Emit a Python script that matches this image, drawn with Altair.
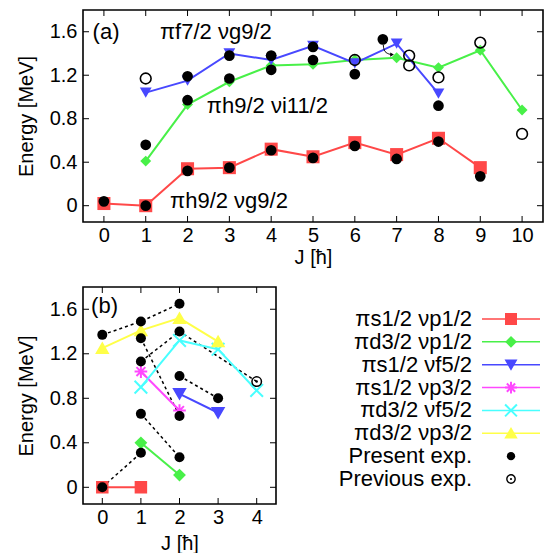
import altair as alt
import pandas as pd

FONT = "Liberation Sans"

# ---------------- Panel (a) data ----------------
a_red_J = [0, 1, 2, 3, 4, 5, 6, 7, 8, 9]
a_red_E = [0.02, 0.00, 0.34, 0.35, 0.52, 0.45, 0.58, 0.47, 0.62, 0.35]
a_green_J = [1, 2, 3, 4, 5, 6, 7, 8, 9, 10]
a_green_E = [0.41, 0.93, 1.14, 1.29, 1.30, 1.34, 1.36, 1.27, 1.43, 0.88]
a_blue_J = [1, 2, 3, 4, 5, 6, 7, 8]
a_blue_E = [1.04, 1.15, 1.40, 1.34, 1.47, 1.31, 1.49, 1.03]

a_present_J = [0, 1, 1, 2, 2, 2, 3, 3, 3, 4, 4, 4, 5, 5, 5, 6, 6, 6.67, 7, 8, 8, 9]
a_present_E = [0.04, 0.00, 0.56, 0.32, 0.97, 1.19, 0.35, 1.17, 1.38, 0.51, 1.25, 1.38,
               0.44, 1.34, 1.46, 0.55, 1.21, 1.53, 0.43, 0.59, 0.92, 0.27]
a_previous_J = [1, 6, 7.3, 7.3, 8, 9, 10]
a_previous_E = [1.17, 1.34, 1.38, 1.29, 1.18, 1.50, 0.66]

a_arrow_J = [6.68, 6.70, 6.86]
a_arrow_E = [1.48, 1.41, 1.39]
a_arrowhead_J = [6.89]
a_arrowhead_E = [1.39]

a_text = ["(a)", "πf7/2 νg9/2", "πh9/2 νi11/2", "πh9/2 νg9/2"]
a_text_J = [-0.27, 1.34, 2.46, 1.58]
a_text_E = [1.60, 1.60, 0.92, 0.045]
a_text_size = [22, 22, 22, 22]

# ---------------- Panel (b) data ----------------
b_series = ["πs1/2 νp1/2", "πd3/2 νp1/2", "πs1/2 νf5/2",
            "πs1/2 νp3/2", "πd3/2 νf5/2", "πd3/2 νp3/2"]
b_J = [
    [0, 1],
    [1, 2],
    [2, 3],
    [1, 2],
    [1, 2, 3, 4],
    [0, 1, 2, 3],
]
b_E = [
    [0.00, 0.00],
    [0.40, 0.11],
    [0.84, 0.67],
    [1.04, 0.69],
    [0.90, 1.32, 1.24, 0.87],
    [1.25, 1.41, 1.52, 1.31],
]
b_dot_group = [1, 1, 1, 2, 2, 3, 3, 4, 4, 5, 5, 5, 6, 6]
b_dot_J = [0, 1, 2, 0, 1, 1, 2, 1, 2, 1, 2, 4, 2, 3]
b_dot_E = [1.37, 1.49, 1.65, 0.00, 0.31, 0.66, 0.27, 1.34, 0.64, 1.13, 1.40, 0.95, 1.00, 0.80]

b_present_J = [0, 0, 1, 1, 1, 1, 1, 2, 2, 2, 2, 2, 3]
b_present_E = [1.37, 0.00, 1.49, 1.34, 1.13, 0.66, 0.31, 1.65, 1.40, 1.00, 0.64, 0.27, 0.80]
b_previous_J = [4]
b_previous_E = [0.95]

b_text = ["(b)"]
b_text_J = [-0.29]
b_text_E = [1.63]

# ---------------- styles ----------------
colors = ["#ff4848", "#48f048", "#4848ff", "#ff48ff", "#48ffff", "#ffff48"]
ASTER = "M-1,0L1,0M0,-1L0,1M-0.7,-0.7L0.7,0.7M-0.7,0.7L0.7,-0.7"
XMARK = "M-1,-1L1,1M-1,1L1,-1"
shapes = ["square", "diamond", "triangle-down", ASTER, XMARK, "triangle-up"]
sizes_b = [110, 100, 120, 160, 160, 120]
legend_sizes = [100, 80, 90, 140, 140, 100]

axis_common = dict(labelFont=FONT, labelFontSize=20, titleFont=FONT, titleFontSize=20,
                   titleFontWeight="normal", labelColor="black", titleColor="black",
                   grid=False, domain=False, ticks=False, tickSize=0)

y_axis = alt.Axis(values=[0, 0.4, 0.8, 1.2, 1.6], title="Energy [MeV]",
                  labelPadding=6, titlePadding=13,
                  labelExpr="datum.value == 0 ? '0' : format(datum.value, '.1f')")


def panel(W, H, xmax, xticks, title_pad, layers_fn):
    xs = alt.Scale(domain=[-0.5, xmax], nice=False, zero=False)
    ys = alt.Scale(domain=[-0.15, 1.8], nice=False, zero=False)
    x_enc = alt.X("J:Q", scale=xs, axis=alt.Axis(values=xticks, title="J [ħ]", format="d",
                                                 labelPadding=3, titlePadding=title_pad))
    y_enc = alt.Y("E:Q", scale=ys, axis=y_axis)
    tx = pd.DataFrame({"J": xticks})
    ty = pd.DataFrame({"E": [0, 0.4, 0.8, 1.2, 1.6]})
    tick_layers = [
        alt.Chart(tx).mark_rule(color="black", strokeWidth=1).encode(x=x_enc, y=alt.value(H), y2=alt.value(H - 6)),
        alt.Chart(tx).mark_rule(color="black", strokeWidth=1).encode(x=x_enc, y=alt.value(0), y2=alt.value(6)),
        alt.Chart(ty).mark_rule(color="black", strokeWidth=1).encode(y=y_enc, x=alt.value(0), x2=alt.value(6)),
        alt.Chart(ty).mark_rule(color="black", strokeWidth=1).encode(y=y_enc, x=alt.value(W - 6), x2=alt.value(W)),
    ]
    layers = tick_layers + layers_fn(x_enc, y_enc)
    return alt.layer(*layers).properties(width=W, height=H)


def layers_a(x_enc, y_enc):
    out = []
    series = [(a_red_J, a_red_E, colors[0], "square", 170),
              (a_green_J, a_green_E, colors[1], "diamond", 120),
              (a_blue_J, a_blue_E, colors[2], "triangle-down", 140)]
    for J, E, c, shp, sz in series:
        df = pd.DataFrame({"J": J, "E": E})
        out.append(alt.Chart(df).mark_line(color=c, strokeWidth=2).encode(x=x_enc, y=y_enc))
    for J, E, c, shp, sz in series:
        df = pd.DataFrame({"J": J, "E": E})
        out.append(alt.Chart(df).mark_point(shape=shp, size=sz, filled=True, color=c, opacity=1)
                   .encode(x=x_enc, y=y_enc))
    out.append(alt.Chart(pd.DataFrame({"J": a_arrow_J, "E": a_arrow_E}))
               .mark_line(color="black", strokeWidth=1, interpolate="basis").encode(x=x_enc, y=y_enc))
    out.append(alt.Chart(pd.DataFrame({"J": a_arrowhead_J, "E": a_arrowhead_E}))
               .mark_point(shape="triangle-right", size=18, filled=True, color="black", opacity=1)
               .encode(x=x_enc, y=y_enc))
    out.append(alt.Chart(pd.DataFrame({"J": a_present_J, "E": a_present_E}))
               .mark_circle(size=115, color="black", opacity=1).encode(x=x_enc, y=y_enc))
    out.append(alt.Chart(pd.DataFrame({"J": a_previous_J, "E": a_previous_E}))
               .mark_point(shape="circle", size=115, filled=False, color="black", strokeWidth=1.6, opacity=1)
               .encode(x=x_enc, y=y_enc))
    tdf = pd.DataFrame({"J": a_text_J, "E": a_text_E, "t": a_text, "fs": a_text_size})
    out.append(alt.Chart(tdf).mark_text(align="left", baseline="middle", font=FONT, color="black")
               .encode(x=x_enc, y=y_enc, text="t:N",
                       size=alt.Size("fs:Q", scale=None, legend=None)))
    return out


def layers_b(x_enc, y_enc):
    out = []
    ddf = pd.DataFrame({"J": b_dot_J, "E": b_dot_E, "g": b_dot_group})
    out.append(alt.Chart(ddf).mark_line(color="black", strokeWidth=1.5, strokeDash=[3, 3])
               .encode(x=x_enc, y=y_enc, detail="g:N"))
    for J, E, c in zip(b_J, b_E, colors):
        df = pd.DataFrame({"J": J, "E": E})
        out.append(alt.Chart(df).mark_line(color=c, strokeWidth=2).encode(x=x_enc, y=y_enc))
    for J, E, c, shp, sz in zip(b_J, b_E, colors, shapes, sizes_b):
        df = pd.DataFrame({"J": J, "E": E})
        out.append(alt.Chart(df).mark_point(shape=shp, size=sz, filled=True, fill=c, stroke=c,
                                            strokeWidth=2, opacity=1)
                   .encode(x=x_enc, y=y_enc))
    out.append(alt.Chart(pd.DataFrame({"J": b_present_J, "E": b_present_E}))
               .mark_circle(size=100, color="black", opacity=1).encode(x=x_enc, y=y_enc))
    pdf = pd.DataFrame({"J": b_previous_J, "E": b_previous_E})
    out.append(alt.Chart(pdf).mark_point(shape="circle", size=90, filled=False, color="black",
                                         strokeWidth=1.5, opacity=1).encode(x=x_enc, y=y_enc))
    out.append(alt.Chart(pdf).mark_circle(size=6, color="black", opacity=1).encode(x=x_enc, y=y_enc))
    tdf = pd.DataFrame({"J": b_text_J, "E": b_text_E, "t": b_text})
    out.append(alt.Chart(tdf).mark_text(align="left", baseline="middle", font=FONT, fontSize=22, color="black")
               .encode(x=x_enc, y=y_enc, text="t:N"))
    return out


chart_a = panel(460, 212, 10.5, list(range(11)), 2, layers_a)
chart_b = panel(193, 217, 4.5, [0, 1, 2, 3, 4], 6, layers_b)

# ---------------- key ----------------
key_labels = b_series + ["Present exp.", "Previous exp."]
ky = alt.Y("label:N", scale=alt.Scale(type="point", domain=key_labels, range=[32, 192], padding=0),
           axis=None)
key_layers = [
    alt.Chart(pd.DataFrame({"label": key_labels})).mark_text(
        align="right", baseline="middle", font=FONT, fontSize=22, color="black")
    .encode(y=ky, x=alt.value(183), text="label:N")
]
for lab, c, shp, sz in zip(b_series, colors, shapes, legend_sizes):
    df = pd.DataFrame({"label": [lab]})
    key_layers.append(alt.Chart(df).mark_rule(color=c, strokeWidth=1.5)
                      .encode(y=ky, x=alt.value(193), x2=alt.value(251)))
    key_layers.append(alt.Chart(df).mark_point(shape=shp, size=sz, filled=True, fill=c, stroke=c,
                                               strokeWidth=2, opacity=1)
                      .encode(y=ky, x=alt.value(222)))
key_layers.append(alt.Chart(pd.DataFrame({"label": ["Present exp."]}))
                  .mark_circle(size=70, color="black", opacity=1).encode(y=ky, x=alt.value(222)))
key_layers.append(alt.Chart(pd.DataFrame({"label": ["Previous exp."]}))
                  .mark_point(shape="circle", size=70, filled=False, color="black", strokeWidth=1.4, opacity=1)
                  .encode(y=ky, x=alt.value(222)))
key_layers.append(alt.Chart(pd.DataFrame({"label": ["Previous exp."]}))
                  .mark_circle(size=5, color="black", opacity=1).encode(y=ky, x=alt.value(222)))
key = alt.layer(*key_layers).properties(width=255, height=217,
                                        view=alt.ViewBackground(stroke="transparent"))

bottom = alt.hconcat(chart_b, key, spacing=13, bounds="flush")
chart = alt.vconcat(chart_a, bottom, spacing=65, bounds="flush").properties(
    padding={"left": 7, "top": 0, "right": 0, "bottom": 0}
).configure_view(stroke="black", strokeWidth=1.6).configure_axis(**axis_common)

chart.save("out.html", embed_options={"renderer": "svg", "actions": False})
